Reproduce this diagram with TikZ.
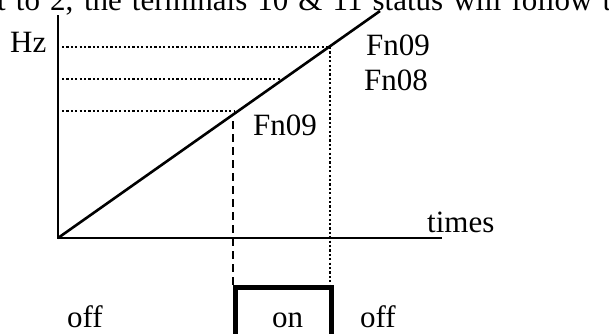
\documentclass[tikz,border=0pt]{standalone}
\usepackage{fontspec}
\setmainfont{Liberation Serif}
\begin{document}
\begin{tikzpicture}[x=1pt,y=-1pt,
  lbl/.style={anchor=base west,inner sep=0pt,font=\fontsize{31}{37}\selectfont},
  axisline/.style={line width=2.6pt},
  dotline/.style={line width=2.4pt,dash pattern=on 2.2pt off 2.2pt},
  dashline/.style={line width=2.4pt,dash pattern=on 8pt off 5pt},
  pulse/.style={line width=5pt}]
\useasboundingbox (0,0) rectangle (609,333);
\clip (0,0) rectangle (609,333);
% cut-off text line at the top
\node[lbl] (toptext) at (-3,10) {\makebox[614pt][s]{t to 2, the terminals 10 \& 11 status will follow t}};
% axes
\coordinate (o) at (58,238);
\coordinate (ytop) at (58,15);
\coordinate (xend) at (442,238);
\coordinate (diagend) at (380,11);
\draw[axisline] (ytop) -- (o) -- (xend);
\draw[axisline] (o) -- (diagend);
% dotted levels
\coordinate (l1s) at (62,47);  \coordinate (l1e) at (330,47);
\coordinate (l2s) at (62,79);  \coordinate (l2e) at (282,79);
\coordinate (l3s) at (62,111); \coordinate (l3e) at (235,111);
\draw[dotline] (l1s) -- (l1e);
\draw[dotline] (l2s) -- (l2e);
\draw[dotline] (l3s) -- (l3e);
% verticals
\coordinate (pr) at (331,287);
\coordinate (pl) at (235,287);
\draw[dotline] (l1e) -- (330,287);
\coordinate (dtop) at (233,121);
\draw[dashline] (dtop) -- (233,287);
% pulse
\coordinate (plb) at (235,345);
\coordinate (prb) at (331,345);
\draw[pulse] (plb) -- (pl) -- (pr) -- (prb);
% labels
\node[lbl] (hz) at (10,52) {Hz};
\node[lbl] (fn09a) at (366,55) {Fn09};
\node[lbl] (fn08) at (364,90) {Fn08};
\node[lbl] (fn09b) at (253,135) {Fn09};
\node[lbl] (times) at (427,232) {times};
\node[lbl] (off1) at (67,327) {off};
\node[lbl] (on) at (272,327) {on};
\node[lbl] (off2) at (360,327) {off};
\end{tikzpicture}
\end{document}
